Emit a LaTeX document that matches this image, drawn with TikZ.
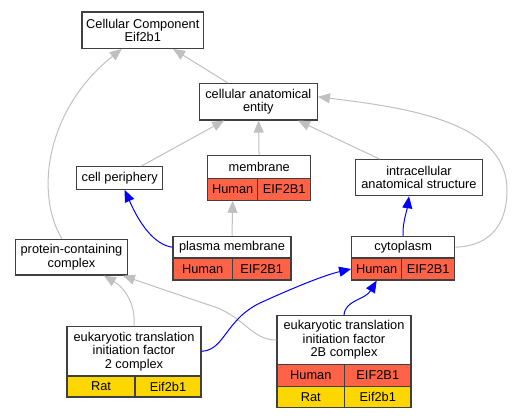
\documentclass[tikz,border=0pt]{standalone}
\usepackage{fontspec}
\setmainfont{Liberation Sans}
\usetikzlibrary{arrows.meta}

\definecolor{boxgray}{HTML}{404040}
\definecolor{edgegray}{HTML}{C0C0C0}
\definecolor{humanred}{HTML}{FF6347}
\definecolor{ratgold}{HTML}{FFD700}

\begin{document}
\begin{tikzpicture}[x=1pt, y=-1pt,
  font=\fontsize{12.8}{13.4}\selectfont,
  term/.style={draw=boxgray, fill=white, line width=1.2pt, inner sep=0pt, align=center},
  human/.style={term, fill=humanred, minimum height=22pt},
  rat/.style={term, fill=ratgold, minimum height=21pt},
  isa/.style={draw=edgegray, line width=1pt, -{Triangle[length=12pt, width=10pt]}},
  partof/.style={draw=blue, line width=1pt, -{Triangle[length=12pt, width=10pt]}}]

  \useasboundingbox (0,0) rectangle (527,419);

  % plain terms
  \node [term, minimum width=121.5pt, minimum height=36.3pt] (cc) at (142.8,30.2) {Cellular Component\\Eif2b1};
  \node [term, minimum width=118pt, minimum height=36.3pt] (cae) at (258.3,101.8) {cellular anatomical\\entity};
  \node [term, minimum width=86pt, minimum height=22.6pt] (cp) at (119.7,178) {cell periphery};
  \node [term, minimum width=127.4pt, minimum height=36pt] (intra) at (419,177.7) {intracellular\\anatomical structure};
  \node [term, minimum width=111.6pt, minimum height=35.7pt] (pc) at (71.5,257.2) {protein-containing\\complex};

  % membrane
  \node [term, minimum width=103pt, minimum height=22.6pt] (memhead) at (259.2,167) {membrane};
  \node [human, minimum width=50pt] (memH) at (232.7,189.2) {Human};
  \node [human, minimum width=53pt] (memG) at (284.2,189.2) {EIF2B1};

  % plasma membrane
  \node [term, minimum width=118pt, minimum height=21.7pt] (pmhead) at (232,247.2) {plasma membrane};
  \node [human, minimum width=59.3pt] (pmH) at (202.7,269) {Human};
  \node [human, minimum width=58.7pt] (pmG) at (261.7,269) {EIF2B1};

  % cytoplasm
  \node [term, minimum width=103pt, minimum height=21.7pt] (cyhead) at (403.2,247.2) {cytoplasm};
  \node [human, minimum width=50pt] (cyH) at (376.7,269) {Human};
  \node [human, minimum width=53pt] (cyG) at (428.2,269) {EIF2B1};

  % eIF2 complex
  \node [term, minimum width=134pt, minimum height=49.3pt] (eifhead) at (134,351.3) {eukaryotic translation\\initiation factor\\2 complex};
  \node [rat, minimum width=68pt] (eifR) at (101,386.5) {Rat};
  \node [rat, minimum width=66pt] (eifG) at (168,386.5) {Eif2b1};

  % eIF2B complex
  \node [term, minimum width=134pt, minimum height=48.6pt] (eifbhead) at (344,340) {eukaryotic translation\\initiation factor\\2B complex};
  \node [human, minimum width=67.7pt] (eifbH) at (310.8,375.5) {Human};
  \node [human, minimum width=66.3pt] (eifbHG) at (377.8,375.5) {EIF2B1};
  \node [rat, minimum width=67.7pt] (eifbR) at (310.8,397.3) {Rat};
  \node [rat, minimum width=66.3pt] (eifbRG) at (377.8,397.3) {Eif2b1};

  % is_a
  \draw [isa] (cae) -- (cc);
  \draw [isa] ([xshift=-9.5pt]pc.north) .. controls (35,195) and (45,110) .. ([xshift=-21pt]cc.south);
  \draw [isa] (cp) -- (cae);
  \draw [isa] (memhead) -- (cae);
  \draw [isa] (intra) -- (cae);
  \draw [isa] (cyhead.east) .. controls (490,246) and (507,225) .. (507,190)
    .. controls (507,120) and (400,107) .. ([yshift=5pt]cae.east);
  \draw [isa] (pmhead.north) -- (memH.south);
  \draw [isa] (eifhead.north) .. controls (136,305) and (125,288) .. ([xshift=-24pt]pc.south east);
  \draw [isa] (eifbhead.west) .. controls (252,340) and (245,318) .. (215,307)
    .. controls (185,297) and (150,285) .. ([xshift=-5pt]pc.south east);

  % part_of
  \draw [partof] (pmhead.west) .. controls (155,245) and (140,225) .. ([xshift=5pt]cp.south);
  \draw [partof] (cyhead.north) .. controls (402,225) and (407,210) .. ([xshift=-10pt]intra.south);
  \draw [partof] (eifhead.east) .. controls (225,350) and (225,320) .. (260,303)
    .. controls (295,287) and (325,275) .. (cyH.west);
  \draw [partof] (eifbhead.north) .. controls (345,300) and (365,300) .. (cyH.south);

\end{tikzpicture}
\end{document}
